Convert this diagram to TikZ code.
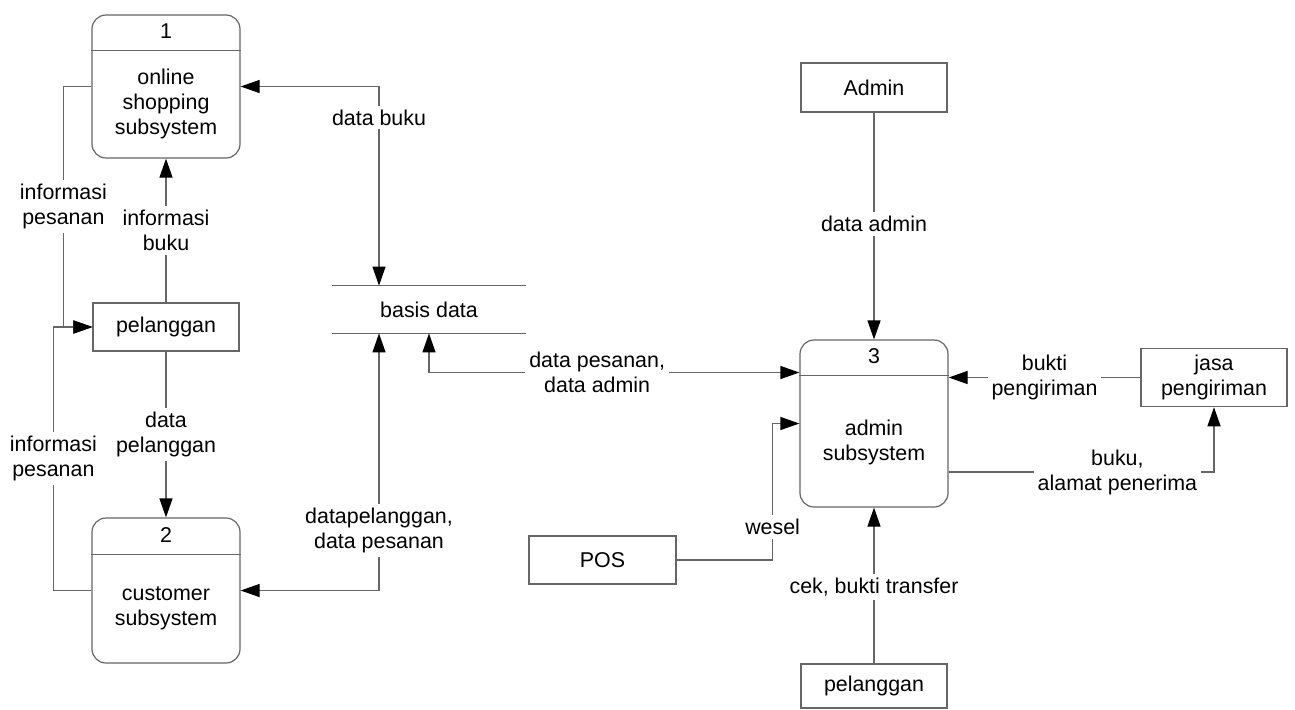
\documentclass[tikz,border=0pt]{standalone}
\usepackage{fontspec}
\setmainfont{Liberation Sans}
\usetikzlibrary{arrows.meta}

\tikzset{
  proc/.style={draw=black!60, line width=0.6pt, rounded corners=7pt, minimum width=74pt},
  entity/.style={draw=black!60, line width=0.6pt, minimum width=73pt, minimum height=24pt},
  flow/.style={draw=black!60, line width=0.6pt},
  lbl/.style={fill=white, inner sep=2pt, align=center},
}

\begin{document}
\begin{tikzpicture}[x=0.5pt,y=-0.5pt,>={Triangle[length=9.5pt,width=6.5pt,color=black]},
  font=\fontsize{10.7pt}{12.5pt}\selectfont, align=center]
			\useasboundingbox (0,0) rectangle (1295,709);
			% processes
			\node[proc, minimum height=71.5pt] (p_1) at (166,86.5) {};
			\node[proc, minimum height=72.5pt] (p_2) at (166,590.5) {};
			\node[proc, minimum height=83.5pt] (p_3) at (874,423.5) {};
			\draw[flow] ([yshift=-18pt]p_1.north west) -- ([yshift=-18pt]p_1.north east);
			\draw[flow] ([yshift=-18.5pt]p_2.north west) -- ([yshift=-18.5pt]p_2.north east);
			\draw[flow] ([yshift=-18pt]p_3.north west) -- ([yshift=-18pt]p_3.north east);
			\node at ([yshift=-8.5pt]p_1.north) {1};
			\node at ([yshift=-9pt]p_2.north) {2};
			\node at ([yshift=-8.5pt]p_3.north) {3};
			\node at ([yshift=-8.75pt]p_1.center) {online\\shopping\\subsystem};
			\node at ([yshift=-9pt]p_2.center) {customer\\subsystem};
			\node at ([yshift=-9.5pt]p_3.center) {admin\\subsystem};
			% data store
			\node[minimum width=96.5pt, minimum height=23.5pt] (basis) at (429,309.5) {basis data};
			\draw[flow] (basis.north west) -- (basis.north east) (basis.south west) -- (basis.south east);
			% external entities
			\node[entity] (pel_1) at (166,327) {pelanggan};
			\node[entity, minimum height=24.5pt] (admin) at (874,87.5) {Admin};
			\node[entity, minimum height=24.5pt] (jasa) at (1214,377.5) {jasa\\pengiriman};
			\node[entity, minimum width=73.5pt] (pos) at (602.5,560) {POS};
			\node[entity, minimum height=22pt] (pel_2) at (874,686) {pelanggan};
			% flows
			\draw[flow,<->] (p_1.east) -| node[lbl,pos=0.578] {data buku} ([xshift=-25pt]basis.north);
			\draw[flow,->] (pel_1.north) -- node[lbl] {informasi\\buku} (p_1.south);
			\draw[flow,->] (p_1.west) -- ++(-28,0) |- node[lbl,pos=0.25] {informasi\\pesanan} (pel_1.west);
			\draw[flow,->] (p_2.west) -- ++(-38,0) |- node[lbl,pos=0.25] {informasi\\pesanan} (pel_1.west);
			\draw[flow,->] (pel_1.south) -- node[lbl] {data\\pelanggan} (p_2.north);
			\draw[flow,<->] (p_2.east) -| node[lbl,pos=0.616] {datapelanggan,\\data pesanan} ([xshift=-25pt]basis.south);
			\draw[flow,<->] (basis.south) |- node[lbl,pos=0.727] {data pesanan,\\data admin} ([yshift=25.5pt]p_3.west);
			\draw[flow,->] (admin.south) -- node[lbl,pos=0.49] {data admin} (p_3.north);
			\draw[flow,->] (jasa.west) -- node[lbl] {bukti\\pengiriman} (p_3.east |- jasa.west);
			\draw[flow,->] ([yshift=-24.25pt]p_3.east) -| node[lbl,pos=0.318] {buku,\\alamat penerima} (jasa.south);
			\draw[flow,->] (pos.east) -- ++(96,0) |- node[lbl,pos=0.12] {wesel} (p_3.west);
			\draw[flow,->] (pel_2.north) -- node[lbl,pos=0.49] {cek, bukti transfer} (p_3.south);
		\end{tikzpicture}
\end{document}
